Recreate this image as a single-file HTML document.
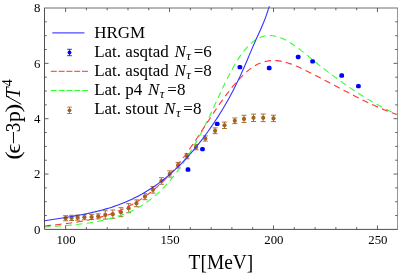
<!DOCTYPE html>
<html><head><meta charset="utf-8"><title>chart</title>
<style>
html,body{margin:0;padding:0;background:#fff;}
body{width:398px;height:273px;overflow:hidden;font-family:"Liberation Serif",serif;}
svg{display:block;will-change:transform;}
text{font-family:"Liberation Serif",serif;fill:#000;}
</style></head><body>
<svg width="398" height="273" viewBox="0 0 398 273">
<rect x="0" y="0" width="398" height="273" fill="#fff"/>
<g stroke="#a06322" stroke-width="0.9" fill="#a06322">
<path d="M65.6,215.7V220.8M63.1,215.7h5M63.1,220.8h5" fill="none"/><circle cx="65.6" cy="218.2" r="2.1" stroke="none"/>
<path d="M71.6,215.3V220.5M69.1,215.3h5M69.1,220.5h5" fill="none"/><circle cx="71.6" cy="217.9" r="2.1" stroke="none"/>
<path d="M77.7,215.1V220.2M75.2,215.1h5M75.2,220.2h5" fill="none"/><circle cx="77.7" cy="217.7" r="2.1" stroke="none"/>
<path d="M84.4,214.7V219.8M81.9,214.7h5M81.9,219.8h5" fill="none"/><circle cx="84.4" cy="217.2" r="2.1" stroke="none"/>
<path d="M91.6,214.4V219.6M89.1,214.4h5M89.1,219.6h5" fill="none"/><circle cx="91.6" cy="217.0" r="2.1" stroke="none"/>
<path d="M98.2,213.8V218.9M95.7,213.8h5M95.7,218.9h5" fill="none"/><circle cx="98.2" cy="216.3" r="2.1" stroke="none"/>
<path d="M105.3,210.8V219.1M102.8,210.8h5M102.8,219.1h5" fill="none"/><circle cx="105.3" cy="214.9" r="2.1" stroke="none"/>
<path d="M112.8,210.0V218.3M110.3,210.0h5M110.3,218.3h5" fill="none"/><circle cx="112.8" cy="214.2" r="2.1" stroke="none"/>
<path d="M120.9,207.7V216.7M118.4,207.7h5M118.4,216.7h5" fill="none"/><circle cx="120.9" cy="212.2" r="2.1" stroke="none"/>
<path d="M128.6,203.7V212.7M126.1,203.7h5M126.1,212.7h5" fill="none"/><circle cx="128.6" cy="208.2" r="2.1" stroke="none"/>
<path d="M136.4,199.9V206.7M133.9,199.9h5M133.9,206.7h5" fill="none"/><circle cx="136.4" cy="203.3" r="2.1" stroke="none"/>
<path d="M144.9,193.7V199.7M142.4,193.7h5M142.4,199.7h5" fill="none"/><circle cx="144.9" cy="196.7" r="2.1" stroke="none"/>
<path d="M153.0,186.5V193.1M150.5,186.5h5M150.5,193.1h5" fill="none"/><circle cx="153.0" cy="189.8" r="2.1" stroke="none"/>
<path d="M161.4,177.7V184.3M158.9,177.7h5M158.9,184.3h5" fill="none"/><circle cx="161.4" cy="181.0" r="2.1" stroke="none"/>
<path d="M169.7,170.9V177.1M167.2,170.9h5M167.2,177.1h5" fill="none"/><circle cx="169.7" cy="174.0" r="2.1" stroke="none"/>
<path d="M178.1,162.4V168.0M175.6,162.4h5M175.6,168.0h5" fill="none"/><circle cx="178.1" cy="165.2" r="2.1" stroke="none"/>
<path d="M187.0,153.6V158.8M184.5,153.6h5M184.5,158.8h5" fill="none"/><circle cx="187.0" cy="156.2" r="2.1" stroke="none"/>
<path d="M196.0,144.6V149.8M193.5,144.6h5M193.5,149.8h5" fill="none"/><circle cx="196.0" cy="147.2" r="2.1" stroke="none"/>
<path d="M205.3,135.9V141.1M202.8,135.9h5M202.8,141.1h5" fill="none"/><circle cx="205.3" cy="138.5" r="2.1" stroke="none"/>
<path d="M215.1,127.9V133.7M212.6,127.9h5M212.6,133.7h5" fill="none"/><circle cx="215.1" cy="130.8" r="2.1" stroke="none"/>
<path d="M224.5,122.1V128.5M222.0,122.1h5M222.0,128.5h5" fill="none"/><circle cx="224.5" cy="125.3" r="2.1" stroke="none"/>
<path d="M234.8,118.0V123.6M232.3,118.0h5M232.3,123.6h5" fill="none"/><circle cx="234.8" cy="120.8" r="2.1" stroke="none"/>
<path d="M244.0,115.3V122.5M241.5,115.3h5M241.5,122.5h5" fill="none"/><circle cx="244.0" cy="118.9" r="2.1" stroke="none"/>
<path d="M253.5,114.1V121.5M251.0,114.1h5M251.0,121.5h5" fill="none"/><circle cx="253.5" cy="117.8" r="2.1" stroke="none"/>
<path d="M263.2,114.0V121.6M260.7,114.0h5M260.7,121.6h5" fill="none"/><circle cx="263.2" cy="117.8" r="2.1" stroke="none"/>
<path d="M273.5,115.2V121.6M271.0,115.2h5M271.0,121.6h5" fill="none"/><circle cx="273.5" cy="118.4" r="2.1" stroke="none"/>
</g>
<g fill="none" stroke-linecap="butt" stroke-linejoin="round">
<path d="M44.60,227.01 L46.60,226.88 L48.60,226.74 L50.60,226.61 L52.60,226.47 L54.60,226.34 L56.60,226.20 L58.60,226.06 L60.60,225.91 L62.60,225.76 L64.60,225.61 L66.60,225.44 L68.60,225.27 L70.60,225.09 L72.60,224.91 L74.60,224.71 L76.60,224.50 L78.60,224.28 L80.60,224.05 L82.60,223.80 L84.60,223.54 L86.60,223.27 L88.60,222.98 L90.60,222.67 L92.60,222.35 L94.60,222.00 L96.60,221.64 L98.60,221.26 L100.60,220.86 L102.60,220.43 L104.60,219.98 L106.60,219.51 L108.60,219.02 L110.60,218.50 L112.60,217.95 L114.60,217.38 L116.60,216.78 L118.60,216.14 L120.60,215.46 L122.60,214.75 L124.60,214.00 L126.60,213.20 L128.60,212.36 L130.60,211.47 L132.60,210.53 L134.60,209.54 L136.60,208.49 L138.60,207.38 L140.60,206.22 L142.60,204.98 L144.60,203.69 L146.60,202.32 L148.60,200.89 L150.60,199.38 L152.60,197.80 L154.60,196.14 L156.60,194.40 L158.60,192.57 L160.60,190.67 L162.60,188.67 L164.60,186.60 L166.60,184.43 L168.60,182.19 L170.60,179.85 L172.60,177.43 L174.60,174.92 L176.60,172.32 L178.60,169.63 L180.60,166.86 L182.60,163.99 L184.60,161.04 L186.60,157.99 L188.60,154.85 L190.60,151.62 L192.60,148.30 L194.60,144.89 L196.60,141.38 L198.60,137.77 L200.60,134.07 L202.60,130.26 L204.60,126.36 L206.60,122.35 L208.60,118.24 L210.60,114.02 L212.60,109.73 L214.60,105.39 L216.60,101.05 L218.60,96.73 L220.60,92.44 L222.60,88.21 L224.60,84.06 L226.60,79.99 L228.60,76.02 L230.60,72.18 L232.60,68.48 L234.60,64.93 L236.60,61.56 L238.60,58.38 L240.60,55.40 L242.60,52.65 L244.60,50.11 L246.60,47.78 L248.60,45.67 L250.60,43.76 L252.60,42.06 L254.60,40.57 L256.60,39.27 L258.60,38.17 L260.60,37.27 L262.60,36.56 L264.60,36.05 L266.60,35.71 L268.60,35.55 L270.60,35.55 L272.60,35.72 L274.60,36.03 L276.60,36.48 L278.60,37.07 L280.60,37.79 L282.60,38.62 L284.60,39.56 L286.60,40.61 L288.60,41.75 L290.60,42.97 L292.60,44.27 L294.60,45.64 L296.60,47.07 L298.60,48.55 L300.60,50.08 L302.60,51.65 L304.60,53.24 L306.60,54.85 L308.60,56.48 L310.60,58.11 L312.60,59.74 L314.60,61.36 L316.60,62.97 L318.60,64.56 L320.60,66.14 L322.60,67.71 L324.60,69.26 L326.60,70.81 L328.60,72.33 L330.60,73.85 L332.60,75.35 L334.60,76.83 L336.60,78.31 L338.60,79.76 L340.60,81.20 L342.60,82.63 L344.60,84.04 L346.60,85.43 L348.60,86.81 L350.60,88.17 L352.60,89.52 L354.60,90.84 L356.60,92.15 L358.60,93.45 L360.60,94.72 L362.60,95.98 L364.60,97.22 L366.60,98.44 L368.60,99.64 L370.60,100.82 L372.60,101.98 L374.60,103.12 L376.60,104.25 L378.60,105.35 L380.60,106.43 L382.60,107.49 L384.60,108.53 L386.60,109.55 L388.60,110.55 L390.60,111.52 L392.60,112.47 L394.60,113.40 L396.60,114.31" stroke="#33ff33" stroke-width="1.1" stroke-dasharray="6.33,4.33" stroke-dashoffset="0.4"/>
<path d="M44.60,226.05 L46.60,225.82 L48.60,225.59 L50.60,225.36 L52.60,225.14 L54.60,224.91 L56.60,224.68 L58.60,224.45 L60.60,224.22 L62.60,223.98 L64.60,223.74 L66.60,223.49 L68.60,223.23 L70.60,222.96 L72.60,222.69 L74.60,222.40 L76.60,222.10 L78.60,221.78 L80.60,221.46 L82.60,221.11 L84.60,220.75 L86.60,220.37 L88.60,219.97 L90.60,219.56 L92.60,219.12 L94.60,218.66 L96.60,218.17 L98.60,217.67 L100.60,217.13 L102.60,216.57 L104.60,215.98 L106.60,215.37 L108.60,214.72 L110.60,214.04 L112.60,213.33 L114.60,212.59 L116.60,211.81 L118.60,211.00 L120.60,210.15 L122.60,209.26 L124.60,208.34 L126.60,207.37 L128.60,206.37 L130.60,205.32 L132.60,204.23 L134.60,203.09 L136.60,201.91 L138.60,200.69 L140.60,199.41 L142.60,198.09 L144.60,196.72 L146.60,195.29 L148.60,193.82 L150.60,192.29 L152.60,190.70 L154.60,189.05 L156.60,187.34 L158.60,185.56 L160.60,183.71 L162.60,181.79 L164.60,179.80 L166.60,177.74 L168.60,175.60 L170.60,173.39 L172.60,171.11 L174.60,168.76 L176.60,166.34 L178.60,163.84 L180.60,161.28 L182.60,158.66 L184.60,155.97 L186.60,153.22 L188.60,150.41 L190.60,147.55 L192.60,144.64 L194.60,141.69 L196.60,138.71 L198.60,135.70 L200.60,132.67 L202.60,129.63 L204.60,126.58 L206.60,123.52 L208.60,120.48 L210.60,117.44 L212.60,114.42 L214.60,111.43 L216.60,108.47 L218.60,105.54 L220.60,102.66 L222.60,99.83 L224.60,97.06 L226.60,94.35 L228.60,91.71 L230.60,89.13 L232.60,86.64 L234.60,84.23 L236.60,81.91 L238.60,79.68 L240.60,77.56 L242.60,75.53 L244.60,73.62 L246.60,71.83 L248.60,70.15 L250.60,68.60 L252.60,67.19 L254.60,65.91 L256.60,64.78 L258.60,63.79 L260.60,62.93 L262.60,62.22 L264.60,61.63 L266.60,61.18 L268.60,60.84 L270.60,60.63 L272.60,60.52 L274.60,60.53 L276.60,60.64 L278.60,60.85 L280.60,61.16 L282.60,61.55 L284.60,62.02 L286.60,62.57 L288.60,63.18 L290.60,63.86 L292.60,64.60 L294.60,65.39 L296.60,66.23 L298.60,67.11 L300.60,68.03 L302.60,68.98 L304.60,69.95 L306.60,70.94 L308.60,71.94 L310.60,72.95 L312.60,73.97 L314.60,74.99 L316.60,76.03 L318.60,77.06 L320.60,78.11 L322.60,79.16 L324.60,80.21 L326.60,81.26 L328.60,82.32 L330.60,83.38 L332.60,84.43 L334.60,85.49 L336.60,86.55 L338.60,87.61 L340.60,88.66 L342.60,89.72 L344.60,90.77 L346.60,91.81 L348.60,92.85 L350.60,93.89 L352.60,94.91 L354.60,95.94 L356.60,96.95 L358.60,97.96 L360.60,98.95 L362.60,99.94 L364.60,100.92 L366.60,101.88 L368.60,102.84 L370.60,103.78 L372.60,104.71 L374.60,105.62 L376.60,106.52 L378.60,107.40 L380.60,108.27 L382.60,109.12 L384.60,109.96 L386.60,110.77 L388.60,111.57 L390.60,112.35 L392.60,113.11 L394.60,113.84 L396.60,114.56" stroke="#ff3333" stroke-width="1.1" stroke-dasharray="6.35,4.34" stroke-dashoffset="0"/>
<path d="M44.60,220.68 L46.20,220.43 L47.80,220.18 L49.40,219.94 L51.00,219.69 L52.60,219.45 L54.20,219.20 L55.80,218.96 L57.40,218.72 L59.00,218.47 L60.60,218.23 L62.20,217.98 L63.80,217.73 L65.40,217.48 L67.00,217.23 L68.60,216.97 L70.20,216.71 L71.80,216.44 L73.40,216.17 L75.00,215.90 L76.60,215.62 L78.20,215.33 L79.80,215.04 L81.40,214.74 L83.00,214.43 L84.60,214.12 L86.20,213.80 L87.80,213.46 L89.40,213.12 L91.00,212.77 L92.60,212.41 L94.20,212.04 L95.80,211.66 L97.40,211.27 L99.00,210.87 L100.60,210.45 L102.20,210.02 L103.80,209.58 L105.40,209.12 L107.00,208.65 L108.60,208.17 L110.20,207.67 L111.80,207.16 L113.40,206.63 L115.00,206.08 L116.60,205.52 L118.20,204.94 L119.80,204.34 L121.40,203.73 L123.00,203.09 L124.60,202.44 L126.20,201.77 L127.80,201.08 L129.40,200.36 L131.00,199.63 L132.60,198.88 L134.20,198.10 L135.80,197.31 L137.40,196.49 L139.00,195.64 L140.60,194.78 L142.20,193.89 L143.80,192.98 L145.40,192.04 L147.00,191.08 L148.60,190.09 L150.20,189.07 L151.80,188.03 L153.40,186.96 L155.00,185.87 L156.60,184.74 L158.20,183.59 L159.80,182.41 L161.40,181.20 L163.00,179.97 L164.60,178.70 L166.20,177.40 L167.80,176.07 L169.40,174.71 L171.00,173.32 L172.60,171.89 L174.20,170.43 L175.80,168.94 L177.40,167.42 L179.00,165.86 L180.60,164.27 L182.20,162.65 L183.80,160.99 L185.40,159.30 L187.00,157.57 L188.60,155.80 L190.20,154.00 L191.80,152.17 L193.40,150.29 L195.00,148.38 L196.60,146.44 L198.20,144.45 L199.80,142.43 L201.40,140.37 L203.00,138.27 L204.60,136.13 L206.20,133.96 L207.80,131.74 L209.40,129.48 L211.00,127.19 L212.60,124.85 L214.20,122.47 L215.80,120.05 L217.40,117.59 L219.00,115.08 L220.60,112.53 L222.20,109.92 L223.80,107.26 L225.40,104.54 L227.00,101.76 L228.60,98.91 L230.20,96.00 L231.80,93.01 L233.40,89.95 L235.00,86.80 L236.60,83.58 L238.20,80.27 L239.80,76.87 L241.40,73.39 L243.00,69.82 L244.60,66.17 L246.20,62.45 L247.80,58.69 L249.40,54.90 L251.00,51.11 L252.60,47.36 L254.20,43.66 L255.80,40.05 L257.40,36.53 L259.00,33.04 L260.60,29.51 L262.20,25.84 L263.80,21.98 L265.40,17.83 L267.00,13.32 L268.60,8.36 L269.50,6.20" stroke="#3333ff" stroke-width="1.1"/>
</g>
<g fill="#0000ff">
<rect x="185.65" y="167.35" width="4.7" height="4.4" rx="1.6"/>
<rect x="200.15" y="146.95" width="4.7" height="4.4" rx="1.6"/>
<rect x="214.85" y="121.65" width="4.7" height="4.4" rx="1.6"/>
<rect x="237.55" y="64.95" width="4.7" height="4.4" rx="1.6"/>
<rect x="266.85" y="65.85" width="4.7" height="4.4" rx="1.6"/>
<rect x="295.85" y="54.75" width="4.7" height="4.4" rx="1.6"/>
<rect x="310.25" y="59.15" width="4.7" height="4.4" rx="1.6"/>
<rect x="339.35" y="73.35" width="4.7" height="4.4" rx="1.6"/>
<rect x="356.05" y="83.95" width="4.7" height="4.4" rx="1.6"/>
</g>
<g stroke="#505050" fill="none">
<path d="M44.5,8.0V229.4H397.8" stroke-width="1"/><path d="M44.0,8.0H397.8" stroke-width="1" stroke="#6c6c6c"/><path d="M397.75,8.0V229.4" stroke-width="1" stroke="#707070"/>
<path d="M65.60,229.4v-4.0M65.60,8.0v4.0M86.39,229.4v-2.3M86.39,8.0v2.3M107.18,229.4v-2.3M107.18,8.0v2.3M127.97,229.4v-2.3M127.97,8.0v2.3M148.76,229.4v-2.3M148.76,8.0v2.3M169.55,229.4v-4.0M169.55,8.0v4.0M190.34,229.4v-2.3M190.34,8.0v2.3M211.13,229.4v-2.3M211.13,8.0v2.3M231.92,229.4v-2.3M231.92,8.0v2.3M252.71,229.4v-2.3M252.71,8.0v2.3M273.50,229.4v-4.0M273.50,8.0v4.0M294.29,229.4v-2.3M294.29,8.0v2.3M315.08,229.4v-2.3M315.08,8.0v2.3M335.87,229.4v-2.3M335.87,8.0v2.3M356.66,229.4v-2.3M356.66,8.0v2.3M377.45,229.4v-4.0M377.45,8.0v4.0M44.5,215.56h2.3M397.5,215.56h-2.3M44.5,201.72h2.3M397.5,201.72h-2.3M44.5,187.89h2.3M397.5,187.89h-2.3M44.5,174.05h4.0M397.5,174.05h-4.0M44.5,160.21h2.3M397.5,160.21h-2.3M44.5,146.38h2.3M397.5,146.38h-2.3M44.5,132.54h2.3M397.5,132.54h-2.3M44.5,118.70h4.0M397.5,118.70h-4.0M44.5,104.86h2.3M397.5,104.86h-2.3M44.5,91.03h2.3M397.5,91.03h-2.3M44.5,77.19h2.3M397.5,77.19h-2.3M44.5,63.35h4.0M397.5,63.35h-4.0M44.5,49.51h2.3M397.5,49.51h-2.3M44.5,35.68h2.3M397.5,35.68h-2.3M44.5,21.84h2.3M397.5,21.84h-2.3" stroke-width="0.9"/>
</g>
<g font-size="12.8">
<text x="66.0" y="244.1" text-anchor="middle">100</text>
<text x="170.0" y="244.1" text-anchor="middle">150</text>
<text x="273.9" y="244.1" text-anchor="middle">200</text>
<text x="377.9" y="244.1" text-anchor="middle">250</text>
<text x="40.5" y="233.7" text-anchor="end">0</text>
<text x="40.5" y="178.3" text-anchor="end">2</text>
<text x="40.5" y="123.0" text-anchor="end">4</text>
<text x="40.5" y="67.6" text-anchor="end">6</text>
<text x="40.5" y="12.2" text-anchor="end">8</text>
</g>
<text transform="translate(188.6,268.6) scale(0.925,1)" font-size="21">T[MeV]</text>
<g transform="translate(20.3,158.8) rotate(-90)" font-size="20">
<text transform="translate(-1.0,0) scale(1.3,1)">(</text>
<text transform="translate(5.15,0) scale(1.25,1)">ϵ</text>
<text transform="translate(14.2,0) scale(1.22,1)">−</text>
<text transform="translate(26.5,0) scale(0.95,1)">3</text>
<text transform="translate(36.5,0) scale(1.12,1)">p</text>
<text transform="translate(46.25,0) scale(1.35,1)">)</text>
<text transform="translate(60.2,0) scale(1.0,1)" font-style="italic">T</text>
<path d="M54.5,1.0L62.5,-13.5" stroke="#000" stroke-width="1.0" fill="none"/><text x="72.5" y="-8.4" font-size="14">4</text></g>
<path d="M52.3,32.8H84.4" stroke="#4d4dff" stroke-width="1.2"/>
<path d="M50.8,71.3H88" stroke="#ff3333" stroke-width="1.0" stroke-dasharray="6,1.8"/>
<path d="M50.8,90.5H88" stroke="#33ff33" stroke-width="1.0" stroke-dasharray="6,1.8"/>
<path d="M69.5,49.3V55.7M67.1,49.3h4.8M67.1,55.7h4.8" stroke="#0000ff" stroke-width="0.8" fill="none"/><circle cx="69.5" cy="52.5" r="1.9" fill="#0000ff"/>
<path d="M69.5,107.1V113.5M67.1,107.1h4.8M67.1,113.5h4.8" stroke="#a06322" stroke-width="0.8" fill="none"/><circle cx="69.5" cy="110.3" r="1.9" fill="#a06322"/>
<g font-size="17">
<text x="94.2" y="37.8">HRGM</text>
<text x="94.2" y="56.6">Lat. asqtad <tspan font-style="italic" dx="1.4">N</tspan><tspan font-style="italic" font-size="13" dy="2.9" dx="0.5">τ</tspan><tspan dy="-2.9" dx="2.8">=6</tspan></text>
<text x="94.2" y="75.8">Lat. asqtad <tspan font-style="italic" dx="1.4">N</tspan><tspan font-style="italic" font-size="13" dy="2.9" dx="0.5">τ</tspan><tspan dy="-2.9" dx="2.8">=8</tspan></text>
<text x="94.2" y="95.0">Lat. p4 <tspan font-style="italic" dx="1.4">N</tspan><tspan font-style="italic" font-size="13" dy="2.9" dx="0.5">τ</tspan><tspan dy="-2.9" dx="2.8">=8</tspan></text>
<text x="94.2" y="114.2">Lat. stout <tspan font-style="italic" dx="1.4">N</tspan><tspan font-style="italic" font-size="13" dy="2.9" dx="0.5">τ</tspan><tspan dy="-2.9" dx="2.8">=8</tspan></text>
</g>
</svg></body></html>
